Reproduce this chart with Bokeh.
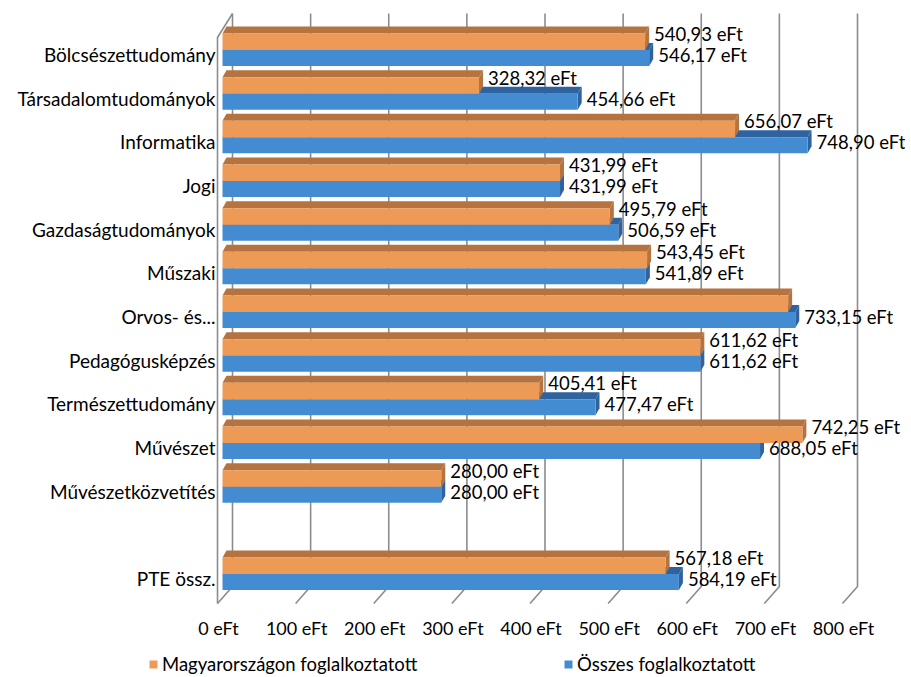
from bokeh.plotting import figure
from bokeh.models import Range1d, Legend, LegendItem
from bokeh.core.properties import value
from bokeh.embed import file_html
from bokeh.resources import INLINE

# ---- data ----
categories = ["Bölcsészettudomány", "Társadalomtudományok", "Informatika", "Jogi",
              "Gazdaságtudományok", "Műszaki", "Orvos- és...", "Pedagógusképzés",
              "Természettudomány", "Művészet", "Művészetközvetítés", "", "PTE össz."]
hungary = [540.93, 328.32, 656.07, 431.99, 495.79, 543.45, 724.0, 611.62,
           405.41, 742.25, 280.00, None, 567.18]
hungary_label_shown = [True, True, True, True, True, True, False, True,
                       True, True, True, False, True]
total = [546.17, 454.66, 748.90, 431.99, 506.59, 541.89, 733.15, 611.62,
         477.47, 688.05, 280.00, None, 584.19]
x_ticks = [0, 100, 200, 300, 400, 500, 600, 700, 800]
series_names = ["Magyarországon foglalkoztatott", "Összes foglalkoztatott"]

# ---- geometry (pixel scale helpers) ----
SX = 0.78125   # px per eFt
SY = 43.67     # px per category
X0 = 222       # page x of value 0 on bar plane
Y0 = 54        # page y of first category
W, H = 905, 675

def ux(px):
    return px / SX

def uy(px):
    return px / SY

FONT = "Lato"
ORANGE = "#EE9A57"
ORANGE_D = "#B5733F"
BLUE = "#448CD2"
BLUE_D = "#2E63A0"
GRID = "#8C8C8C"

p = figure(width=W, height=H, output_backend="svg", toolbar_location=None,
           x_range=Range1d((0 - X0) / SX, (W - X0) / SX),
           y_range=Range1d((H - Y0) / SY, (0 - Y0) / SY),
           x_axis_location=None, y_axis_location=None, min_border=0)
p.outline_line_color = None
p.xgrid.visible = False
p.ygrid.visible = False

# ---- walls / gridlines ----
y_front = uy(603 - Y0)
y_back_bot = uy(586 - Y0)
y_back_top = uy(13 - Y0)
gx, gy = [], []
for t in x_ticks:
    gx.append([t + ux(-5), t + ux(10), t + ux(10)])
    gy.append([y_front, y_back_bot, y_back_top])
gx.append([ux(-5), ux(-5), ux(10)])
gy.append([y_front, uy(37 - Y0), y_back_top])
p.multi_line(gx, gy, line_color=GRID, line_width=1.6)

# ---- 3D bars ----
DX = ux(4)
DY = uy(-7)

def bar_faces(vals, top_px, bot_px):
    fx, fy_t, fy_b = [], [], []
    tx, ty, sx, sy = [], [], [], []
    for i, v in enumerate(vals):
        if v is None:
            continue
        yt = i + uy(top_px)
        yb = i + uy(bot_px)
        fx.append(v); fy_t.append(yt); fy_b.append(yb)
        tx.append([0, v, v + DX, DX]); ty.append([yt, yt, yt + DY, yt + DY])
        sx.append([v, v + DX, v + DX, v]); sy.append([yt, yt + DY, yb + DY, yb])
    return fx, fy_t, fy_b, tx, ty, sx, sy

bars = {}
for name, vals, top_px, bot_px, c, cd in [
        (series_names[1], total, -4.5, 11.5, BLUE, BLUE_D),
        (series_names[0], hungary, -21, -4.5, ORANGE, ORANGE_D)]:
    fx, fyt, fyb, tx, ty, sx, sy = bar_faces(vals, top_px, bot_px)
    p.patches(tx, ty, fill_color=cd, line_color=None)
    p.patches(sx, sy, fill_color=cd, line_color=None)
    bars[name] = p.quad(left=[0] * len(fx), right=fx, top=fyt, bottom=fyb,
                        fill_color=c, line_color=None)

# ---- data labels ----
def fmt(v):
    return f"{v:.2f}".replace(".", ",") + " eFt"

lx, ly, lt = [], [], []
for i, v in enumerate(hungary):
    if v is not None and hungary_label_shown[i]:
        lx.append(v + ux(9)); ly.append(i + uy(-20.5)); lt.append(fmt(v))
for i, v in enumerate(total):
    if v is not None:
        lx.append(v + ux(9)); ly.append(i + uy(0.5)); lt.append(fmt(v))
p.text(x=lx, y=ly, text=lt, text_font=value(FONT), text_font_size="18.5px",
       text_baseline="middle", text_align="left", text_color="#000000")

# ---- category labels ----
cy = list(range(len(categories)))
p.text(x=[ux(-7)] * len(categories), y=cy, text=categories,
       text_font=value(FONT), text_font_size="19px", text_baseline="middle",
       text_align="right", text_color="#000000")

# ---- x tick labels ----
p.text(x=[t + ux(-4) for t in x_ticks], y=[uy(627 - Y0)] * len(x_ticks),
       text=[f"{t} eFt" for t in x_ticks], text_font=value(FONT),
       text_font_size="18px", text_baseline="middle", text_align="center",
       text_color="#000000")

# ---- legends ----
for name, vx in [(series_names[0], 148), (series_names[1], 563)]:
    lg = Legend(items=[LegendItem(label=name, renderers=[bars[name]])],
                location=(vx, 0), padding=0, margin=0, border_line_color=None,
                background_fill_alpha=0, glyph_width=10, glyph_height=10,
                label_height=20, label_standoff=4, label_text_font=FONT,
                label_text_font_size="18.5px", label_text_color="#000000")
    p.add_layout(lg)

open("out.html", "w").write(file_html(p, INLINE))
